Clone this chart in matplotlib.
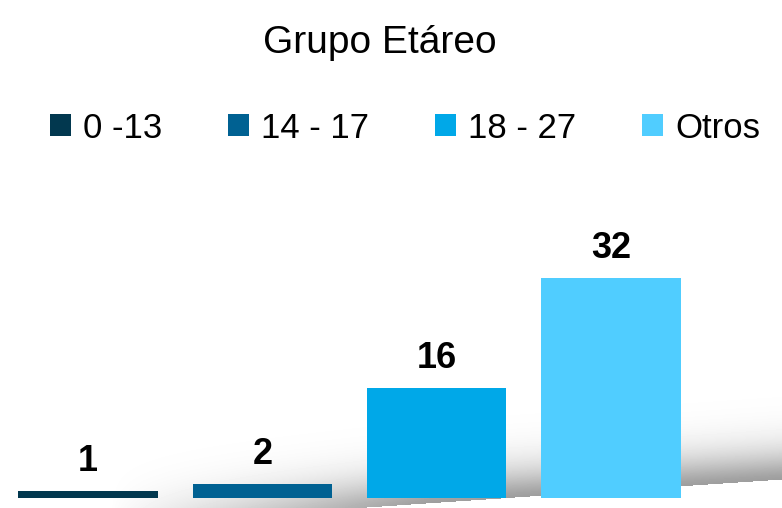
import numpy as np
import matplotlib
matplotlib.use("Agg")
import matplotlib.pyplot as plt
from matplotlib.font_manager import fontManager

# data
grupos = ["0 -13", "14 - 17", "18 - 27", "Otros"]
cantidad = [1, 2, 16, 32]
colores = ["#02384F", "#006192", "#00A8E8", "#50CDFF"]

W, H = 782, 508
fig = plt.figure(figsize=(W / 100, H / 100), dpi=100)

names = {f.name for f in fontManager.ttflist}
narrow = [f for f in ["Liberation Sans Narrow", "Liberation Sans", "DejaVu Sans"] if f in names]
regular = [f for f in ["Liberation Sans", "DejaVu Sans"] if f in names]

# gray "floor" shadow behind the bars
bg = fig.add_axes([0, 0, 1, 1], zorder=0)
bg.set_axis_off()
xx, yy = np.meshgrid(np.arange(W), np.arange(H))
edge = 498 - 0.0674 * (xx - 500)
d = edge - yy
dark = np.where(d >= 0, 0.38 * np.exp(-(d / 30.0) ** 1.5), 0.0)
dark *= np.clip((xx - 110) / 320.0, 0, 1) ** 0.8
img = 1 - dark
bg.imshow(img, cmap="gray", vmin=0, vmax=1, extent=(0, W, H, 0), aspect="auto")
bg.set_xlim(0, W)
bg.set_ylim(H, 0)

# bars
ax = fig.add_axes([1 / W, 10.3 / H, 697 / W, 275 / H], zorder=1)
ax.patch.set_alpha(0)
x = np.arange(len(grupos))
bars = ax.bar(x, cantidad, width=0.8, color=colores, label=grupos)
ax.set_xlim(-0.5, 3.5)
ax.set_ylim(0, 40)
ax.set_axis_off()
for xi, v in zip(x, cantidad):
    ax.annotate(str(v), (xi, v), xytext=(0, 14.4), textcoords="offset points",
                ha="center", va="baseline", fontsize=26, fontweight="bold",
                family=narrow)

fig.text(380 / W, (H - 53) / H, "Grupo Etáreo", ha="center", va="baseline",
         fontsize=28, family=regular)

leg = fig.legend(bars.patches, grupos, loc="center", bbox_to_anchor=(405 / W, (H - 128) / H),
                 ncol=4, frameon=False, handlelength=0.6, handleheight=0.6,
                 handletextpad=0.35, columnspacing=1.9, borderpad=0, borderaxespad=0,
                 prop={"family": narrow, "size": 25})

fig.savefig("out.png", dpi=100)
